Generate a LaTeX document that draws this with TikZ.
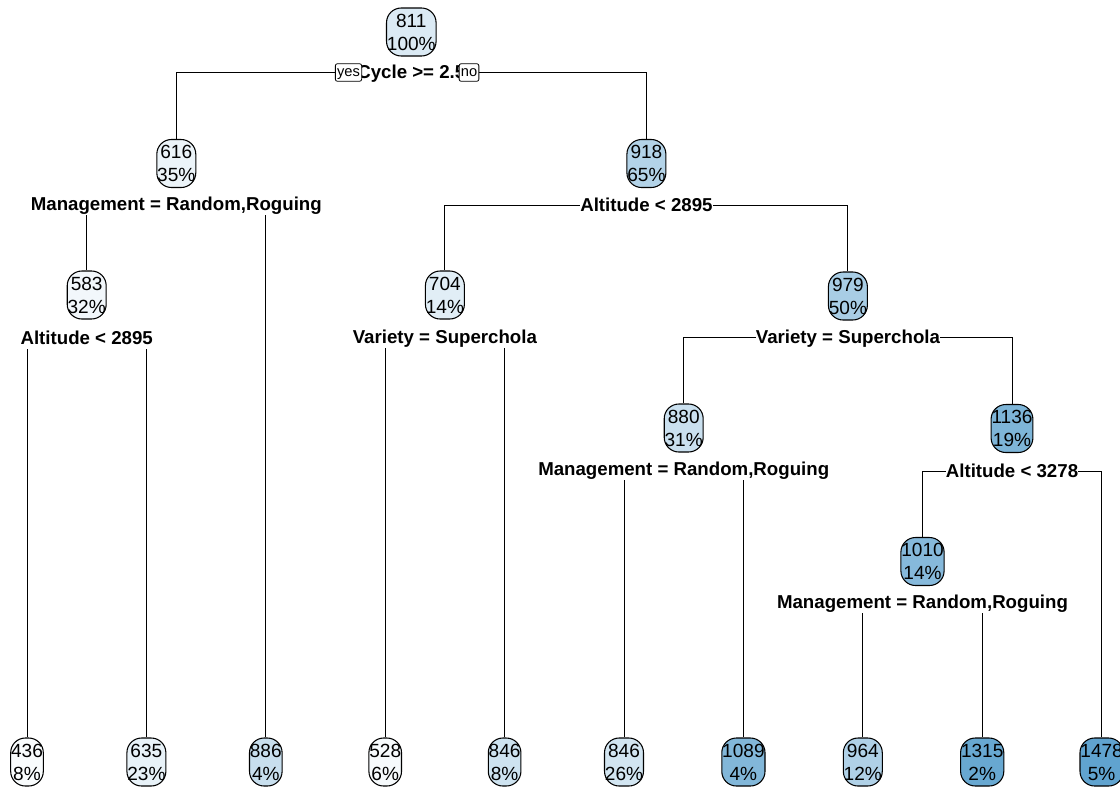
\documentclass[tikz,border=0pt]{standalone}
\usepackage{fontspec}
\setmainfont{Liberation Sans}
\usepackage{xcolor}
\usepackage{tikz}
\usetikzlibrary{backgrounds}
\definecolor{treeblue}{RGB}{66,146,198}
\tikzset{
    resp/.style={draw, line width=0.8pt, rounded corners=11pt, fill=treeblue!#1!white, align=center, inner sep=0.3pt, minimum height=36pt, font=\fontsize{14.3}{17.2}\selectfont},
    splitlab/.style={fill=white, inner sep=0pt, text height=13pt, text depth=3.3pt, font=\bfseries\fontsize{14}{17}\selectfont},
    yesno/.style={draw, line width=0.6pt, rounded corners=1.5pt, fill=white, inner sep=1.3pt, text height=8pt, text depth=2.5pt, font=\fontsize{11}{13}\selectfont},
    branch/.style={draw, line width=0.7pt}
}
\begin{document}
\begin{tikzpicture}[x=0.75pt,y=0.75pt,yscale=-1,xscale=1]
        \useasboundingbox (0,0) rectangle (1120,786);

        % Root
        \node (n1) at (411.3,32) [resp=19] {811\\100\%};
        \node (s1) at (411.3,72) [splitlab] {Cycle >= 2.5};

        % Level 1
        \node (n2) at (176.3,163.5) [resp=10] {616\\35\%};
        \node (s2) at (176.3,204.5) [splitlab] {Management = Random,Roguing};
        \node (n3) at (646.4,163.5) [resp=40] {918\\65\%};
        \node (s3) at (646.4,205) [splitlab] {Altitude < 2895};

        % Level 2
        \node (n4) at (86.7,295) [resp=7] {583\\32\%};
        \node (s4) at (86.7,338) [splitlab] {Altitude < 2895};
        \node (n6) at (444.9,295) [resp=16] {704\\14\%};
        \node (s6) at (444.9,337) [splitlab] {Variety = Superchola};
        \node (n7) at (847.9,296) [resp=46] {979\\50\%};
        \node (s7) at (847.9,337) [splitlab] {Variety = Superchola};

        % Level 3
        \node (n14) at (683.7,428) [resp=28] {880\\31\%};
        \node (s14) at (683.7,469.5) [splitlab] {Management = Random,Roguing};
        \node (n15) at (1012,428.5) [resp=68] {1136\\19\%};
        \node (s15) at (1012,471) [splitlab] {Altitude < 3278};

        % Level 4
        \node (n30) at (922.5,561.5) [resp=64] {1010\\14\%};
        \node (s30) at (922.5,602) [splitlab] {Management = Random,Roguing};

        % Leaves
        \node (n8) at (27,762) [resp=3] {436\\8\%};
        \node (n9) at (146.4,762) [resp=12] {635\\23\%};
        \node (n5) at (265.8,762) [resp=29] {886\\4\%};
        \node (n12) at (385.2,762) [resp=5] {528\\6\%};
        \node (n13) at (504.6,762) [resp=26] {846\\8\%};
        \node (n28) at (624,762) [resp=24] {846\\26\%};
        \node (n29) at (743.4,762) [resp=66] {1089\\4\%};
        \node (n60) at (862.8,762) [resp=42] {964\\12\%};
        \node (n61) at (982.2,762) [resp=80] {1315\\2\%};
        \node (n31) at (1101.6,762) [resp=84] {1478\\5\%};

        % yes / no
        \node (yes) at (348.5,72.5) [yesno] {yes};
        \node (no) at (469,72.5) [yesno] {no};

        % Branches
        \begin{scope}[on background layer]
        \draw [branch] (s1.center) -| (n2.north);
        \draw [branch] (s1.center) -| (n3.north);
        \draw [branch] (s2.center) -| (n4.north);
        \draw [branch] (s2.center) -| (n5.north);
        \draw [branch] (s3.center) -| (n6.north);
        \draw [branch] (s3.center) -| (n7.north);
        \draw [branch] (s4.center) -| (n8.north);
        \draw [branch] (s4.center) -| (n9.north);
        \draw [branch] (s6.center) -| (n12.north);
        \draw [branch] (s6.center) -| (n13.north);
        \draw [branch] (s7.center) -| (n14.north);
        \draw [branch] (s7.center) -| (n15.north);
        \draw [branch] (s14.center) -| (n28.north);
        \draw [branch] (s14.center) -| (n29.north);
        \draw [branch] (s15.center) -| (n30.north);
        \draw [branch] (s15.center) -| (n31.north);
        \draw [branch] (s30.center) -| (n60.north);
        \draw [branch] (s30.center) -| (n61.north);
        \end{scope}
\end{tikzpicture}
\end{document}
